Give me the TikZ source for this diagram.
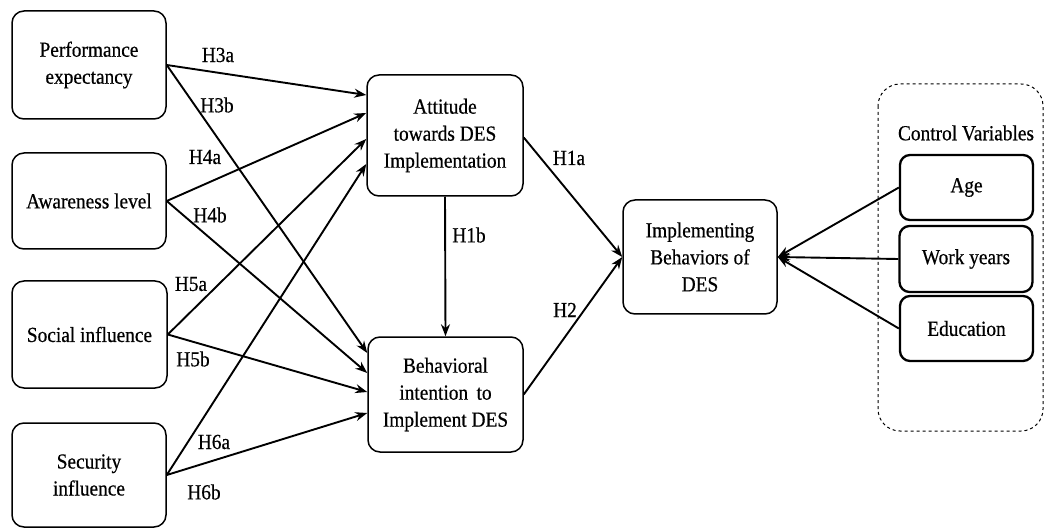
\documentclass[tikz,border=0pt]{standalone}
\usepackage{fontspec}
\setmainfont{Liberation Serif}[FakeStretch=0.9,FakeBold=0.5]
\usetikzlibrary{arrows.meta,calc}
\begin{document}
\begin{tikzpicture}[x=1pt,y=-1pt,
  font=\fontsize{21.5}{27}\selectfont,
  box/.style={draw,line width=1.5pt,rounded corners=12pt,align=center,inner sep=2pt},
  cvbox/.style={draw,line width=2.3pt,rounded corners=10pt,align=center,
    minimum width=133pt,minimum height=65pt},
  link/.style={line width=1.9pt,-{Stealth[length=12pt,width=9pt]}},
  hyp/.style={inner sep=0pt}]
\useasboundingbox (0,0) rectangle (1044,529);

% control-variable frame
\draw[dashed,line width=1pt,rounded corners=22pt] (878,84) rectangle (1043,431);
\node[hyp] (cvt) at (966,133) {Control Variables};

% antecedents
\node[box,minimum width=154pt,minimum height=108pt] (perf) at (89,65) {Performance\\expectancy};
\node[box,minimum width=154pt,minimum height=96pt] (aware) at (89,201) {Awareness level};
\node[box,minimum width=155pt,minimum height=107pt] (soc) at (89.5,334.5) {Social influence};
\node[box,minimum width=154pt,minimum height=104pt] (sec) at (89,475) {Security\\influence};

% mediators and outcome
\node[box,minimum width=156pt,minimum height=121pt] (att) at (445,135.5) {Attitude\\towards DES\\Implementation};
\node[box,minimum width=155pt,minimum height=115pt] (beh) at (445.5,394.5) {Behavioral\\intention\, to\\Implement DES};
\node[box,minimum width=154pt,minimum height=114pt] (impl) at (700,257) {Implementing\\Behaviors of\\DES};

% control variables
\node[cvbox] (age) at (966.5,187.5) {Age};
\node[cvbox,minimum height=66pt] (work) at (966,259) {Work years};
\node[cvbox] (edu) at (966.5,328.5) {Education};

% paths into attitude
\draw[link] (perf.east)  -- ([yshift=40.5pt]att.west);
\draw[link] (aware.east) -- ([yshift=22.5pt]att.west);
\draw[link] (soc.east)   -- ([yshift=-3.5pt]att.west);
\draw[link] (sec.east)   -- ([yshift=-28.5pt]att.west);

% paths into behavioral intention
\draw[link] (perf.east)  -- ([yshift=41.5pt]beh.west);
\draw[link] (aware.east) -- ([yshift=21.5pt]beh.west);
\draw[link] (soc.east)   -- ([yshift=2.5pt]beh.west);
\draw[link] (sec.east)   -- ([yshift=-18.5pt]beh.west);

% paths to outcome
\draw[link] (att.south) -- (beh.north);
\draw[link] ([yshift=-2pt]att.east) -- (impl.west);
\draw[link] (beh.east) -- (impl.west);
\draw[link] (age.west)  -- (impl.east);
\draw[link] (work.west) -- (impl.east);
\draw[link] (edu.west)  -- (impl.east);

% hypothesis labels
\node[hyp] (h3a) at (218,55)  {H3a};
\node[hyp] (h3b) at (217,105) {H3b};
\node[hyp] (h4a) at (205,157) {H4a};
\node[hyp] (h4b) at (210,215) {H4b};
\node[hyp] (h5a) at (191,284) {H5a};
\node[hyp] (h5b) at (193,359) {H5b};
\node[hyp] (h6a) at (214,442) {H6a};
\node[hyp] (h6b) at (204,492) {H6b};
\node[hyp] (h1a) at (569,158) {H1a};
\node[hyp] (h1b) at (469,235) {H1b};
\node[hyp] (h2)  at (565,310) {H2};
\end{tikzpicture}
\end{document}
